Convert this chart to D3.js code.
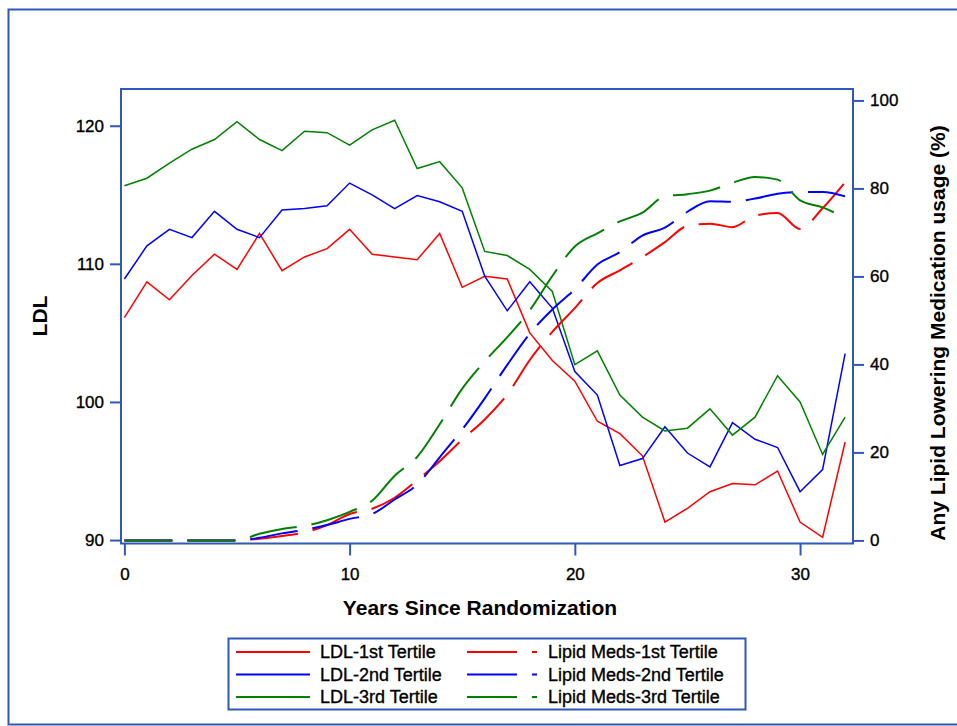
<!DOCTYPE html>
<html>
<head>
<meta charset="utf-8">
<script src="https://cdn.jsdelivr.net/npm/d3@7"></script>
<style>
  body { margin: 0; background: #fff; }
  text { font-family: Arial, "Liberation Sans", sans-serif; fill: #000; }
  .heavy { stroke: #000; stroke-width: 0.35px; }
</style>
</head>
<body>
<svg id="chart" width="957" height="726"></svg>
<script>
// years since randomization
const years = [0, 1, 2, 3, 4, 5, 6, 7, 8, 9, 10, 11, 12, 13, 14, 15, 16, 17, 18, 19, 20,
  21, 22, 23, 24, 25, 26, 27, 28, 29, 30, 31, 32];

// mean LDL by tertile
const ldl1 = [106.1, 108.7, 107.4, 109.15, 110.7, 109.6, 112.2, 109.5, 110.5, 111.1, 112.5,
  110.7, 110.5, 110.3, 112.2, 108.3, 109.1, 108.9, 105.0, 103.0, 101.5,
  98.6, 97.7, 96.1, 91.3, 92.3, 93.5, 94.1, 94.0, 95.0, 91.3, 90.2, 97.1];
const ldl2 = [108.9, 111.3, 112.5, 111.9, 113.8, 112.5, 111.9, 113.9, 114.0, 114.2, 115.85,
  115.0, 114.0, 114.95, 114.5, 113.8, 109.1, 106.6, 108.7, 106.8, 102.2,
  100.5, 95.4, 95.9, 98.2, 96.3, 95.3, 98.5, 97.3, 96.7, 93.5, 95.1, 103.5];
const ldl3 = [115.65, 116.2, 117.3, 118.3, 119.0, 120.3, 119.0, 118.2, 119.6, 119.5, 118.6,
  119.7, 120.4, 116.9, 117.4, 115.5, 110.9, 110.6, 109.6, 108.0, 102.7,
  103.7, 100.5, 98.9, 97.9, 98.1, 99.5, 97.6, 98.9, 101.9, 100.0, 96.2, 98.9];

// any lipid lowering medication usage (%) by tertile
const meds1 = [0, 0, 0, 0, 0, 0, 0.4, 1.0, 1.8, 3.5, 6.0, 7.2, 9.7, 13.7, 18.0, 22.9, 27.5,
  33.2, 41.0, 47.4, 52.8, 58.5, 61.4, 64.4, 67.8, 71.5, 72.0, 71.2, 73.8, 74.4, 70.8, 75.5, 81.4];
const meds2 = [0, 0, 0, 0, 0, 0, 0.6, 1.6, 2.4, 3.5, 4.9, 6.0, 9.3, 12.7, 18.9, 25.2, 32.3,
  39.9, 47.0, 52.5, 57.1, 62.7, 65.5, 69.3, 71.1, 74.7, 77.1, 77.0, 77.7, 78.8, 79.2, 79.2, 78.2];
const meds3 = [0, 0, 0, 0, 0, 0, 1.5, 2.6, 3.3, 4.6, 6.5, 9.0, 14.7, 19.0, 26.4, 34.5, 40.7,
  46.2, 52.3, 60.1, 66.8, 69.8, 72.5, 74.5, 78.2, 78.7, 79.5, 81.3, 82.6, 82.0, 77.3, 75.7, 73.3];

const xTicks = [0, 10, 20, 30];
const ldlTicks = [90, 100, 110, 120];
const medsTicks = [0, 20, 40, 60, 80, 100];

const series = [
  { name: 'LDL-1st Tertile', values: ldl1, color: '#ff0000', axis: 'ldl' },
  { name: 'LDL-2nd Tertile', values: ldl2, color: '#0000ff', axis: 'ldl' },
  { name: 'LDL-3rd Tertile', values: ldl3, color: '#008000', axis: 'ldl' },
  { name: 'Lipid Meds-1st Tertile', values: meds1, color: '#ff0000', axis: 'meds' },
  { name: 'Lipid Meds-2nd Tertile', values: meds2, color: '#0000ff', axis: 'meds' },
  { name: 'Lipid Meds-3rd Tertile', values: meds3, color: '#008000', axis: 'meds' },
];

const frameColor = '#2f58bb';
const svg = d3.select('#chart');

// outer frame (runs off the right edge)
svg.append('rect')
  .attr('x', 8.5).attr('y', 9.5)
  .attr('width', 980).attr('height', 715)
  .attr('fill', 'none')
  .attr('stroke', frameColor)
  .attr('stroke-width', 2);

const plot = { left: 121, right: 853, top: 89, bottom: 543.5 };

const xScale = d3.scaleLinear().domain([-0.15, 32.35]).range([plot.left, plot.right]);
const yLdl = d3.scaleLinear().domain([89.75, 122.66]).range([plot.bottom, plot.top]);
const yMeds = d3.scaleLinear().domain([-0.7, 102.6]).range([plot.bottom, plot.top]);

function styleAxis(g) {
  g.select('.domain').remove();
  g.selectAll('.tick line').attr('stroke', frameColor).attr('stroke-width', 2);
  g.selectAll('.tick text')
    .attr('class', 'heavy')
    .style('font-size', '17px')
    .attr('fill', '#000');
}

svg.append('g')
  .attr('transform', 'translate(0,' + plot.bottom + ')')
  .call(d3.axisBottom(xScale).tickValues(xTicks).tickSize(12).tickPadding(12))
  .call(styleAxis);

svg.append('g')
  .attr('transform', 'translate(' + plot.left + ',0)')
  .call(d3.axisLeft(yLdl).tickValues(ldlTicks).tickSize(11).tickPadding(6))
  .call(styleAxis);

svg.append('g')
  .attr('transform', 'translate(' + plot.right + ',0)')
  .call(d3.axisRight(yMeds).tickValues(medsTicks).tickSize(11).tickPadding(6))
  .call(styleAxis);

// plot border
svg.append('rect')
  .attr('x', plot.left).attr('y', plot.top)
  .attr('width', plot.right - plot.left)
  .attr('height', plot.bottom - plot.top)
  .attr('fill', 'none')
  .attr('stroke', frameColor)
  .attr('stroke-width', 2);

const ldlLine = d3.line()
  .x((d, i) => xScale(years[i]))
  .y((d) => yLdl(d));

const medsLine = d3.line()
  .x((d, i) => xScale(years[i]))
  .y((d) => yMeds(d))
  .curve(d3.curveMonotoneX);

series.forEach((s) => {
  svg.append('path')
    .datum(s.values)
    .attr('fill', 'none')
    .attr('stroke', s.color)
    .attr('stroke-width', s.axis === 'ldl' ? 1.5 : 2)
    .attr('stroke-dasharray', s.axis === 'ldl' ? null : '48,15')
    .attr('d', s.axis === 'ldl' ? ldlLine : medsLine);
});

// axis titles
svg.append('text')
  .attr('x', 480).attr('y', 615)
  .attr('text-anchor', 'middle')
  .style('font-size', '21px')
  .style('font-weight', 'bold')
  .text('Years Since Randomization');

svg.append('text')
  .attr('transform', 'translate(47,316) rotate(-90)')
  .attr('text-anchor', 'middle')
  .style('font-size', '21px')
  .style('font-weight', 'bold')
  .text('LDL');

svg.append('text')
  .attr('transform', 'translate(945,333) rotate(-90)')
  .attr('text-anchor', 'middle')
  .style('font-size', '21px')
  .style('font-weight', 'bold')
  .text('Any Lipid Lowering Medication usage (%)');

// legend
const legend = svg.append('g');
legend.append('rect')
  .attr('x', 228.5).attr('y', 638.5)
  .attr('width', 517).attr('height', 71)
  .attr('fill', 'none')
  .attr('stroke', frameColor)
  .attr('stroke-width', 2);

const rowY = [652, 674.5, 697];
series.forEach((s, i) => {
  const col = i < 3 ? 0 : 1;
  const y = rowY[i % 3];
  const x0 = col === 0 ? 236 : 467;
  const x1 = col === 0 ? 310 : 537;
  legend.append('line')
    .attr('x1', x0).attr('x2', x1)
    .attr('y1', y).attr('y2', y)
    .attr('stroke', s.color)
    .attr('stroke-width', 2)
    .attr('stroke-dasharray', col === 0 ? null : '50,15');
  legend.append('text')
    .attr('class', 'heavy')
    .attr('x', col === 0 ? 320 : 548)
    .attr('y', y + 6)
    .style('font-size', '18px')
    .text(s.name);
});
</script>
</body>
</html>
